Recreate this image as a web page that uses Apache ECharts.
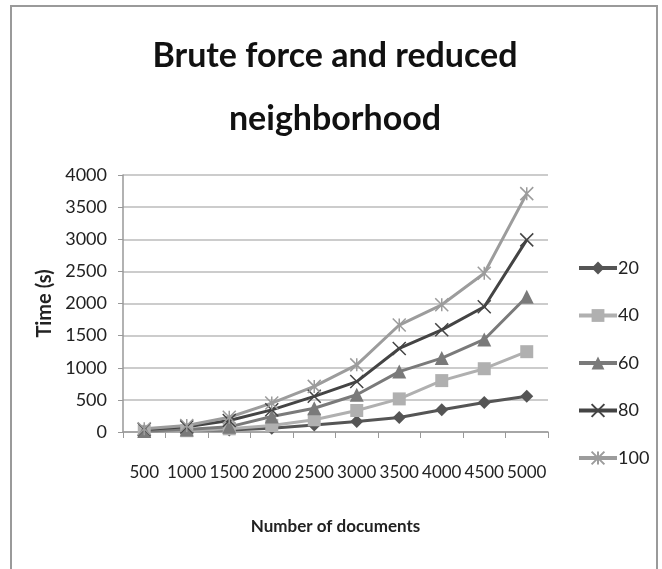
<!DOCTYPE html>
<html>
<head>
<meta charset="utf-8">
<script src="https://cdn.jsdelivr.net/npm/echarts@6/dist/echarts.min.js"></script>
<style>
  html, body { margin: 0; padding: 0; background: #fff; }
  #chart { width: 662px; height: 569px; }
</style>
</head>
<body>
<div id="chart"></div>
<script>
// number of documents
var docs = ['500', '1000', '1500', '2000', '2500', '3000', '3500', '4000', '4500', '5000']
var t20 = [10, 30, 30, 60, 110, 165, 225, 345, 460, 555]
var t40 = [10, 20, 50, 100, 190, 335, 515, 800, 985, 1250]
var t60 = [15, 40, 80, 240, 370, 580, 940, 1150, 1440, 2105]
var t80 = [40, 80, 180, 345, 555, 785, 1300, 1590, 1950, 2990]
var t100 = [50, 100, 230, 450, 710, 1045, 1665, 1980, 2470, 3710]
var names = ['20', '40', '60', '80', '100']

var font = 'Lato, "Open Sans", sans-serif'
var xPath = 'path://M0 0L10 10M10 0L0 10'
var starPath = 'path://M0 0L10 10M10 0L0 10M5 0L5 10'

function mkSeries(name, data, color, symbol, size, stroke) {
    var s = {
        name: name,
        type: 'line',
        data: data,
        symbol: symbol,
        symbolSize: size,
        lineStyle: { color: color, width: 3 },
        itemStyle: { color: color },
        z: 3
    }
    if (stroke) {
        s.itemStyle = { color: color, borderColor: color, borderWidth: 1.5 }
    }
    return s
}

var chart = echarts.init(document.getElementById('chart'))
chart.setOption({
    backgroundColor: '#fff',
    animation: false,
    graphic: [{
        type: 'rect',
        shape: { x: 11, y: 6, width: 646, height: 620 },
        style: { fill: 'none', stroke: '#9a9a9a', lineWidth: 2 },
        z: -1
    }],
    title: {
        text: 'Brute force and reduced\nneighborhood',
        left: 330,
        top: 20,
        textAlign: 'center',
        textStyle: { fontFamily: font, fontWeight: 'bold', fontSize: 34, lineHeight: 63, color: '#111' }
    },
    legend: {
        orient: 'vertical',
        left: 572,
        top: 254,
        itemWidth: 38,
        itemHeight: 16,
        itemGap: 29.5,
        data: names,
        lineStyle: { width: 4 },
        textStyle: { fontFamily: font, fontSize: 18, color: '#222', padding: [0, 0, 0, -4] }
    },
    grid: { left: 123, right: 114, top: 175, bottom: 137 },
    xAxis: {
        type: 'category',
        data: docs,
        name: 'Number of documents',
        nameLocation: 'middle',
        nameGap: 86,
        nameTextStyle: { fontFamily: font, fontSize: 17, fontWeight: 'bold', color: '#222' },
        axisLine: { lineStyle: { color: '#999', width: 1.5 } },
        axisTick: { show: true, length: 6, lineStyle: { color: '#999' } },
        axisLabel: { fontFamily: font, fontSize: 17, color: '#222', margin: 32, interval: 0 }
    },
    yAxis: {
        type: 'value',
        min: 0,
        max: 4000,
        interval: 500,
        name: 'Time (s)',
        nameLocation: 'middle',
        nameGap: 68,
        nameTextStyle: { fontFamily: font, fontSize: 20, fontWeight: 'bold', color: '#222' },
        axisLine: { show: true, lineStyle: { color: '#999', width: 1.5 } },
        axisTick: { show: true, length: 5, lineStyle: { color: '#999' } },
        axisLabel: { fontFamily: font, fontSize: 18, color: '#222', margin: 16, formatter: function (v) { return String(v) } },
        splitLine: { lineStyle: { color: '#bbb', width: 1.5 } }
    },
    series: [
        mkSeries('20', t20, '#555555', 'diamond', 13),
        mkSeries('40', t40, '#b0b0b0', 'rect', 13),
        mkSeries('60', t60, '#7a7a7a', 'triangle', 14),
        mkSeries('80', t80, '#444444', xPath, 13, true),
        mkSeries('100', t100, '#9c9c9c', starPath, 13, true)
    ]
})
</script>
</body>
</html>
